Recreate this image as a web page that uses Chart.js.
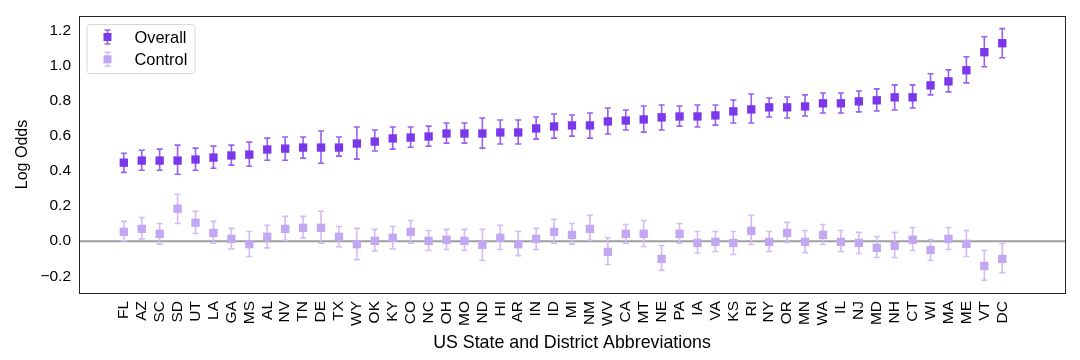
<!DOCTYPE html>
<html>
<head>
<meta charset="utf-8">
<script src="https://cdn.jsdelivr.net/npm/chart.js@4"></script>
<style>
  html, body { margin: 0; padding: 0; background: #fff; }
  #wrap { width: 1080px; height: 360px; }
</style>
</head>
<body>
<div id="wrap"><canvas id="chart" width="1080" height="360"></canvas></div>
<script>
const states = ["FL","AZ","SC","SD","UT","LA","GA","MS","AL","NV","TN","DE","TX","WY","OK","KY","CO",
  "NC","OH","MO","ND","HI","AR","IN","ID","MI","NM","WV","CA","MT","NE","PA","IA",
  "VA","KS","RI","NY","OR","MN","WA","IL","NJ","MD","NH","CT","WI","MA","ME","VT","DC"];

const overall = [0.447,0.459,0.459,0.459,0.465,0.476,0.488,0.493,0.522,0.527,0.533,0.533,0.533,0.556,0.567,0.585,0.590,
  0.596,0.613,0.613,0.613,0.619,0.619,0.642,0.653,0.659,0.659,0.682,0.687,0.693,0.705,0.710,0.710,
  0.716,0.739,0.750,0.762,0.762,0.767,0.785,0.785,0.796,0.802,0.819,0.819,0.887,0.910,0.973,1.076,1.127];
const overallLo = [0.392,0.404,0.404,0.381,0.404,0.415,0.433,0.427,0.461,0.461,0.473,0.444,0.484,0.467,0.513,0.524,0.535,
  0.541,0.558,0.558,0.530,0.553,0.553,0.581,0.587,0.598,0.587,0.610,0.633,0.621,0.633,0.655,0.650,
  0.661,0.673,0.673,0.707,0.701,0.713,0.730,0.730,0.736,0.741,0.747,0.758,0.833,0.850,0.901,0.993,1.044];
const overallHi = [0.501,0.518,0.524,0.547,0.530,0.541,0.547,0.564,0.587,0.593,0.593,0.627,0.593,0.650,0.633,0.650,0.650,
  0.655,0.673,0.673,0.701,0.690,0.690,0.707,0.724,0.718,0.730,0.758,0.747,0.770,0.775,0.770,0.775,
  0.775,0.804,0.838,0.815,0.821,0.833,0.844,0.844,0.855,0.867,0.890,0.890,0.953,0.975,1.050,1.164,1.210];

const control = [0.053,0.070,0.042,0.185,0.105,0.047,0.013,-0.017,0.025,0.070,0.076,0.076,0.025,-0.017,0.002,0.019,0.053,
  0.002,0.008,0.002,-0.021,0.019,-0.017,0.013,0.053,0.036,0.070,-0.061,0.042,0.042,-0.101,0.042,-0.010,
  -0.004,-0.010,0.059,-0.004,0.047,-0.004,0.036,-0.004,-0.010,-0.038,-0.027,0.008,-0.050,0.013,-0.015,-0.141,-0.101];
const controlLo = [0.002,0.013,-0.017,0.101,0.044,-0.011,-0.044,-0.087,-0.038,0.005,0.019,-0.011,-0.032,-0.105,-0.055,-0.044,-0.011,
  -0.053,-0.047,-0.053,-0.110,-0.047,-0.082,-0.047,-0.011,-0.017,0.005,-0.133,-0.011,-0.030,-0.166,-0.011,-0.069,
  -0.059,-0.076,-0.019,-0.059,-0.007,-0.065,-0.019,-0.059,-0.070,-0.093,-0.093,-0.053,-0.110,-0.047,-0.087,-0.223,-0.179];
const controlHi = [0.113,0.135,0.101,0.267,0.170,0.113,0.073,0.055,0.090,0.141,0.141,0.170,0.084,0.073,0.067,0.084,0.118,
  0.061,0.067,0.067,0.067,0.090,0.055,0.073,0.124,0.101,0.147,0.021,0.095,0.118,-0.025,0.101,0.055,
  0.055,0.055,0.147,0.055,0.107,0.061,0.095,0.061,0.050,0.027,0.050,0.078,0.010,0.078,0.061,-0.053,-0.013];

const yTicks = [-0.2, 0.0, 0.2, 0.4, 0.6, 0.8, 1.0, 1.2];

const series = [
  { label: "Overall", values: overall, lo: overallLo, hi: overallHi, color: "#7b38ea", barColor: "#9561ee" },
  { label: "Control", values: control, lo: controlLo, hi: controlHi, color: "#c4a7f2", barColor: "#d2bcf5" },
];

const FONT = "'Liberation Sans', Arial, sans-serif";

// error bars, zero line, full frame and legend
const extras = {
  id: "extras",
  beforeDatasetsDraw(chart) {
    const { ctx, chartArea: a, scales: { x, y } } = chart;
    ctx.save();
    ctx.strokeStyle = "#9e9e9e";
    ctx.lineWidth = 2;
    const y0 = y.getPixelForValue(0);
    ctx.beginPath();
    ctx.moveTo(a.left, y0);
    ctx.lineTo(a.right, y0);
    ctx.stroke();

    series.forEach((s) => {
      ctx.strokeStyle = s.barColor;
      ctx.lineWidth = 1.6;
      s.values.forEach((_, i) => {
        const px = x.getPixelForValue(i);
        const top = y.getPixelForValue(s.hi[i]);
        const bot = y.getPixelForValue(s.lo[i]);
        ctx.beginPath();
        ctx.moveTo(px, top);
        ctx.lineTo(px, bot);
        ctx.moveTo(px - 3, top);
        ctx.lineTo(px + 3, top);
        ctx.moveTo(px - 3, bot);
        ctx.lineTo(px + 3, bot);
        ctx.stroke();
      });
    });
    ctx.restore();
  },
  afterDraw(chart) {
    const { ctx, chartArea: a } = chart;
    ctx.save();
    ctx.strokeStyle = "#262626";
    ctx.lineWidth = 1;
    ctx.strokeRect(a.left + 0.5, a.top + 0.5, a.right - a.left, a.bottom - a.top);

    // legend box
    const lx = a.left + 7.5, ly = a.top + 8, lw = 108, lh = 49;
    ctx.strokeStyle = "#d8d8d8";
    ctx.fillStyle = "rgba(255,255,255,0.8)";
    ctx.beginPath();
    ctx.roundRect(lx + 0.5, ly + 0.5, lw, lh, 3);
    ctx.fill();
    ctx.stroke();
    ctx.font = "16.4px " + FONT;
    ctx.textBaseline = "middle";
    series.forEach((s, k) => {
      const cy = ly + 13 + k * 22.3;
      const cx = lx + 21;
      ctx.strokeStyle = s.barColor;
      ctx.lineWidth = 1.6;
      ctx.beginPath();
      ctx.moveTo(cx, cy - 7);
      ctx.lineTo(cx, cy + 7);
      ctx.moveTo(cx - 3, cy - 7);
      ctx.lineTo(cx + 3, cy - 7);
      ctx.moveTo(cx - 3, cy + 7);
      ctx.lineTo(cx + 3, cy + 7);
      ctx.stroke();
      ctx.fillStyle = s.color;
      ctx.fillRect(cx - 4, cy - 4, 8, 8);
      ctx.fillStyle = "#000";
      ctx.fillText(s.label, lx + 48, cy + 1);
    });
    ctx.restore();
  },
};

const datasets = series.map((s) => ({
  label: s.label,
  data: s.values.map((v, i) => ({ x: i, y: v })),
  pointStyle: "rect",
  pointRadius: 5.9,
  pointHoverRadius: 5.9,
  pointBackgroundColor: s.color,
  pointBorderWidth: 0,
  showLine: false,
}));

new Chart(document.getElementById("chart"), {
  type: "scatter",
  data: { datasets },
  plugins: [extras],
  options: {
    responsive: false,
    animation: false,
    layout: { padding: { top: 16, right: 15, left: 0, bottom: 0 } },
    plugins: { legend: { display: false }, tooltip: { enabled: false } },
    scales: {
      x: {
        type: "linear",
        min: -2.5,
        max: 52.5,
        afterBuildTicks: (scale) => {
          scale.ticks = states.map((_, i) => ({ value: i }));
        },
        afterFit: (scale) => { scale.height = 67; },
        ticks: {
          autoSkip: false,
          minRotation: 90,
          maxRotation: 90,
          padding: 3,
          color: "#000",
          font: { family: FONT, size: 15.5 },
          callback: (v) => states[v],
        },
        grid: { display: false, drawTicks: true, tickLength: 5, tickColor: "#262626" },
        border: { display: true, color: "#262626" },
        title: {
          display: true,
          text: "US State and District Abbreviations",
          color: "#000",
          font: { family: FONT, size: 17.8 },
          padding: { top: 0, bottom: 6 },
        },
      },
      y: {
        min: -0.295,
        max: 1.282,
        afterBuildTicks: (scale) => {
          scale.ticks = yTicks.map((v) => ({ value: v }));
        },
        afterFit: (scale) => { scale.width = 79; },
        ticks: {
          padding: 3,
          color: "#000",
          font: { family: FONT, size: 15.5 },
          callback: (v) => v.toFixed(1).replace("-", "\u2212"),
        },
        grid: { display: false, drawTicks: true, tickLength: 5, tickColor: "#262626" },
        border: { display: true, color: "#262626" },
        title: {
          display: true,
          text: "Log Odds",
          color: "#000",
          font: { family: FONT, size: 16 },
          padding: { top: 13, bottom: 0 },
        },
      },
    },
  },
});
</script>
</body>
</html>
